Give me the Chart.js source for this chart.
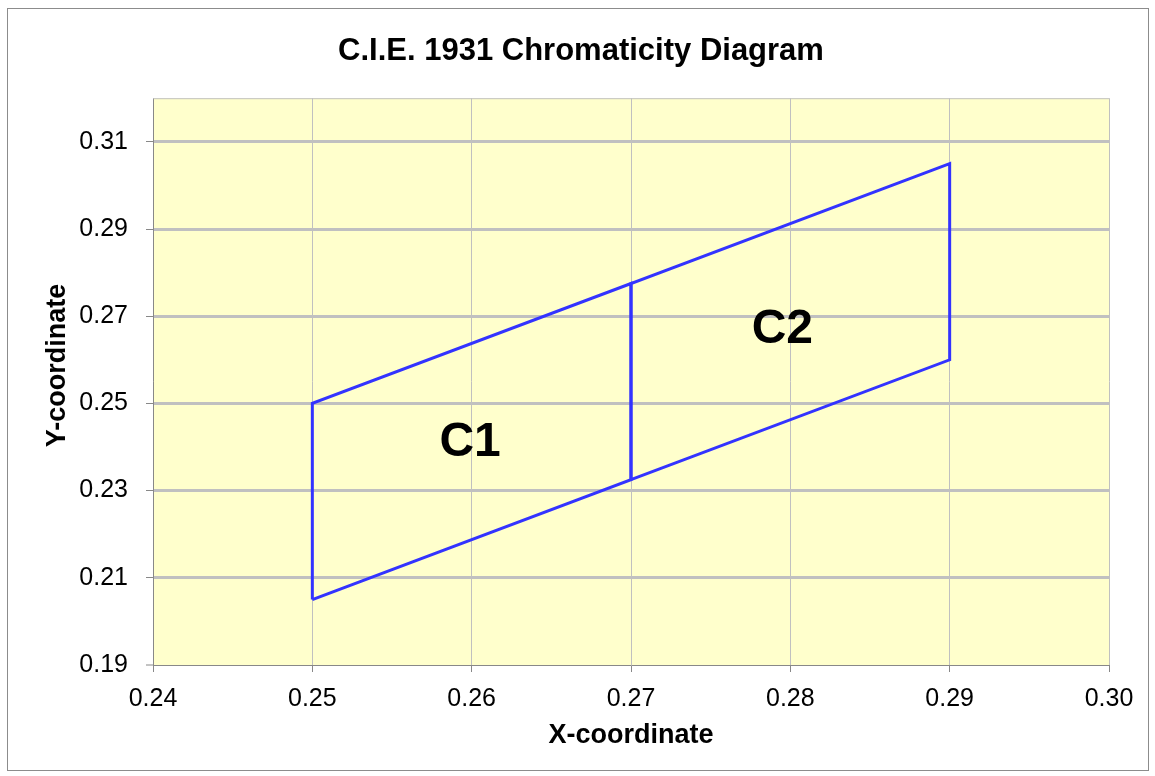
<!DOCTYPE html>
<html>
<head>
<meta charset="utf-8">
<script src="https://cdn.jsdelivr.net/npm/chart.js@4/dist/chart.umd.min.js"></script>
<style>
  html, body { margin: 0; padding: 0; background: #ffffff; }
  canvas { display: block; }
</style>
</head>
<body>
<canvas id="c" width="1155" height="776"></canvas>
<script>
// ---- data ----
const chartTitle = 'C.I.E. 1931 Chromaticity Diagram';
const xTitle = 'X-coordinate';
const yTitle = 'Y-coordinate';

const c1X = [0.25, 0.25, 0.27, 0.27, 0.25];
const c1Y = [0.205, 0.25, 0.2775, 0.2325, 0.205];
const c2X = [0.27, 0.27, 0.29, 0.29, 0.27];
const c2Y = [0.2325, 0.2775, 0.305, 0.26, 0.2325];

const regionNames = ['C1', 'C2'];
const regionLabelX = [0.2599, 0.2795];
const regionLabelY = [0.2409, 0.2668];

const xTicks = [0.24, 0.25, 0.26, 0.27, 0.28, 0.29, 0.30];
const yTicks = [0.19, 0.21, 0.23, 0.25, 0.27, 0.29, 0.31];
const xMin = 0.24, xMax = 0.30, yMin = 0.19, yMax = 0.32;

const FONT = '"Liberation Sans", Arial, sans-serif';

function toPoints(xs, ys) { return xs.map((x, i) => ({ x: x, y: ys[i] })); }

const decorPlugin = {
  id: 'decor',
  afterLayout(chart) {
    // centre the title over the region used by the reference
    const tb = chart.titleBlock;
    if (tb) { tb.left = 53; tb.right = 1109; tb.width = tb.right - tb.left; }
    // lift the y-axis title a little, as in the reference
    const ys = chart.scales.y;
    if (ys && !ys._titleShifted) {
      const orig = ys.drawTitle;
      ys.drawTitle = function () {
        const ctx = this.ctx;
        ctx.save();
        ctx.translate(0, -16);
        orig.call(this);
        ctx.restore();
      };
      ys._titleShifted = true;
    }
  },
  beforeDraw(chart) {
    const { ctx, chartArea: a } = chart;
    ctx.save();
    ctx.fillStyle = '#ffffff';
    ctx.fillRect(0, 0, chart.width, chart.height);
    ctx.strokeStyle = '#8c8c8c';
    ctx.lineWidth = 1;
    ctx.strokeRect(7.5, 8.5, 1141, 762);
    ctx.fillStyle = '#ffffcc';
    ctx.fillRect(a.left, a.top, a.right - a.left, a.bottom - a.top);
    ctx.restore();
  },
  afterDatasetsDraw(chart) {
    const { ctx, chartArea: a, scales } = chart;
    ctx.save();
    ctx.strokeStyle = '#c0c0c0';
    ctx.lineWidth = 1;
    ctx.beginPath();
    ctx.moveTo(a.left, a.top + 0.5);
    ctx.lineTo(a.right, a.top + 0.5);
    ctx.stroke();
    ctx.fillStyle = '#000000';
    ctx.font = 'bold 48px ' + FONT;
    ctx.textAlign = 'center';
    ctx.textBaseline = 'middle';
    regionNames.forEach((n, i) => {
      ctx.fillText(n, scales.x.getPixelForValue(regionLabelX[i]), scales.y.getPixelForValue(regionLabelY[i]));
    });
    ctx.restore();
  }
};

new Chart(document.getElementById('c'), {
  type: 'scatter',
  data: {
    datasets: [
      { label: 'C1', data: toPoints(c1X, c1Y) },
      { label: 'C2', data: toPoints(c2X, c2Y) }
    ].map(d => Object.assign(d, {
      showLine: true,
      borderColor: '#3333ff',
      backgroundColor: '#3333ff',
      borderWidth: 3,
      pointRadius: 0,
      pointHoverRadius: 0,
      tension: 0,
      fill: false
    }))
  },
  options: {
    responsive: false,
    animation: false,
    events: [],
    layout: { padding: { top: 10, left: 0, right: 46, bottom: 0 } },
    plugins: {
      legend: { display: false },
      tooltip: { enabled: false },
      title: {
        display: true,
        text: chartTitle,
        color: '#000000',
        font: { family: FONT, size: 31, weight: 'bold' },
        padding: { top: 23, bottom: 28 }
      }
    },
    scales: {
      x: {
        type: 'linear',
        min: xMin, max: xMax,
        afterBuildTicks(s) { s.ticks = xTicks.map(v => ({ value: v })); },
        afterFit(s) { s.height = 111; },
        ticks: {
          color: '#000000',
          font: { family: FONT, size: 25 },
          padding: 12,
          maxRotation: 0,
          callback: v => Number(v).toFixed(2)
        },
        grid: {
          color: '#c0c0c0',
          lineWidth: 1,
          tickColor: '#888888',
          tickLength: 7,
          tickWidth: 1
        },
        border: { display: true, color: '#888888', width: 1 },
        title: {
          display: true,
          text: xTitle,
          color: '#000000',
          font: { family: FONT, size: 27, weight: 'bold' },
          padding: { top: 0, bottom: 24 }
        }
      },
      y: {
        type: 'linear',
        min: yMin, max: yMax,
        afterBuildTicks(s) { s.ticks = yTicks.map(v => ({ value: v })); },
        afterFit(s) { s.width = 153; },
        ticks: {
          color: '#000000',
          font: { family: FONT, size: 25 },
          padding: 18,
          callback: v => Number(v).toFixed(2)
        },
        grid: {
          color: '#c0c0c0',
          lineWidth: ctx => (ctx.index === 0 ? 0 : 3),
          tickColor: '#888888',
          tickLength: 7,
          tickWidth: 1
        },
        border: { display: true, color: '#888888', width: 1 },
        title: {
          display: true,
          text: yTitle,
          color: '#000000',
          font: { family: FONT, size: 27, weight: 'bold' },
          padding: { top: 41, bottom: 0 }
        }
      }
    }
  },
  plugins: [decorPlugin]
});
</script>
</body>
</html>
